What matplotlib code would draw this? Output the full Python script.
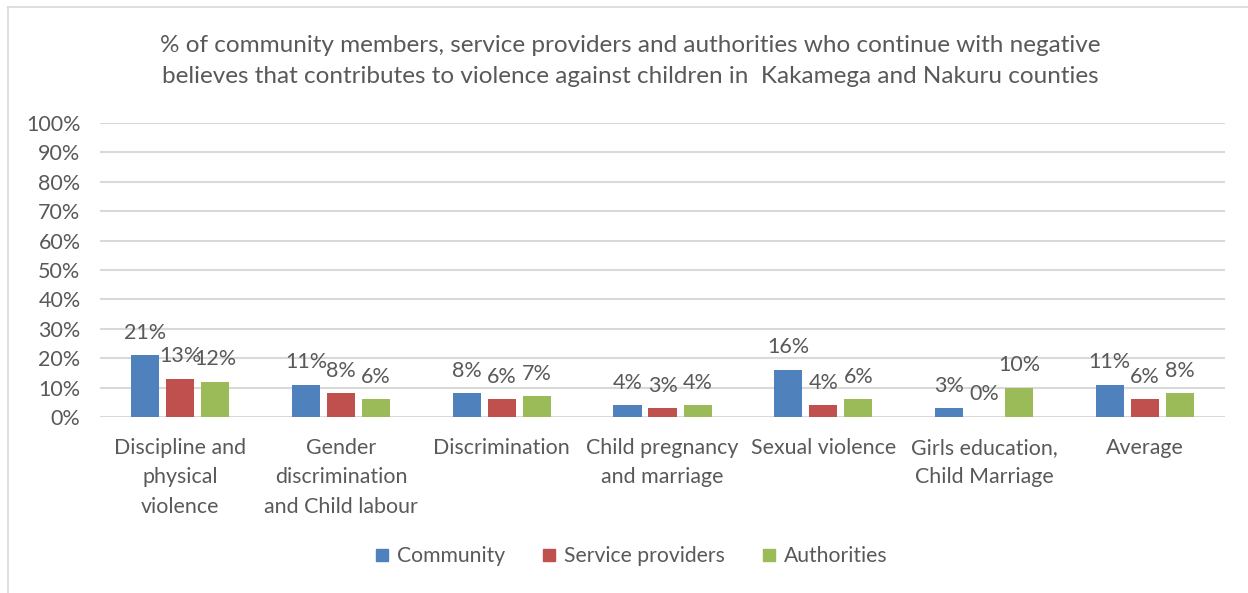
import matplotlib.pyplot as plt
import numpy as np
from matplotlib.lines import Line2D

plt.rcParams["font.family"] = ["Lato", "DejaVu Sans"]

categories = [
    "Discipline and\nphysical\nviolence",
    "Gender\ndiscrimination\nand Child labour",
    "Discrimination",
    "Child pregnancy\nand marriage",
    "Sexual violence",
    "Girls education,\nChild Marriage",
    "Average",
]
series_names = ["Community", "Service providers", "Authorities"]
community = [21, 11, 8, 4, 16, 3, 11]
service_providers = [13, 8, 6, 3, 4, 0, 6]
authorities = [12, 6, 7, 4, 6, 10, 8]
yticks = list(range(0, 101, 10))

colors = ["#4F81BD", "#C0504D", "#9BBB59"]
text_color = "#595959"

fig = plt.figure(figsize=(12.48, 5.93), dpi=100)
ax = fig.add_axes([0.0801, 0.2968, 0.9016, 0.4958])

x = np.arange(len(categories))
width = 0.175
step = 0.218
for i, (name, vals) in enumerate(zip(series_names, [community, service_providers, authorities])):
    pos = x + (i - 1) * step
    ax.bar(pos, vals, width, color=colors[i], label=name, zorder=3)
    for px, v in zip(pos, vals):
        ax.annotate(f"{v}%", (px, v), xytext=(0, 9), textcoords="offset points",
                    ha="center", va="bottom", fontsize=15.5, color=text_color)

ax.set_xlim(-0.5, len(categories) - 0.5)
ax.set_ylim(0, 100)
ax.set_yticks(yticks)
ax.set_yticklabels([f"{t}%" for t in yticks])
ax.set_xticks(x)
ax.set_xticklabels(categories, linespacing=1.6)
ax.tick_params(axis="y", length=0, pad=14, labelsize=15.5, labelcolor=text_color)
ax.tick_params(axis="x", length=0, pad=15, labelsize=15.4, labelcolor=text_color)
ax.grid(axis="y", color="#D9D9D9", linewidth=1.5, zorder=0)
for s in ax.spines.values():
    s.set_visible(False)

fig.text(0.505, 0.897,
         "% of community members, service providers and authorities who continue with negative\n"
         "believes that contributes to violence against children in  Kakamega and Nakuru counties",
         ha="center", va="center", fontsize=17.5, color=text_color, linespacing=1.6)

handles = [Line2D([], [], marker="s", linestyle="none", markersize=8,
                  markerfacecolor=c, markeredgecolor=c) for c in colors]
fig.legend(handles, series_names, loc="center", bbox_to_anchor=(0.506, 0.062), ncol=3,
           frameon=False, fontsize=15.2, labelcolor=text_color, handlelength=0.6,
           handletextpad=0.4, columnspacing=1.8)

# light frame along the top and left edges
fig.add_artist(Line2D([0.0064, 1.0], [0.988, 0.988], color="#D9D9D9", linewidth=1.2))
fig.add_artist(Line2D([0.0064, 0.0064], [0.0, 0.988], color="#D9D9D9", linewidth=1.2))

fig.savefig("out.png", dpi=100)
